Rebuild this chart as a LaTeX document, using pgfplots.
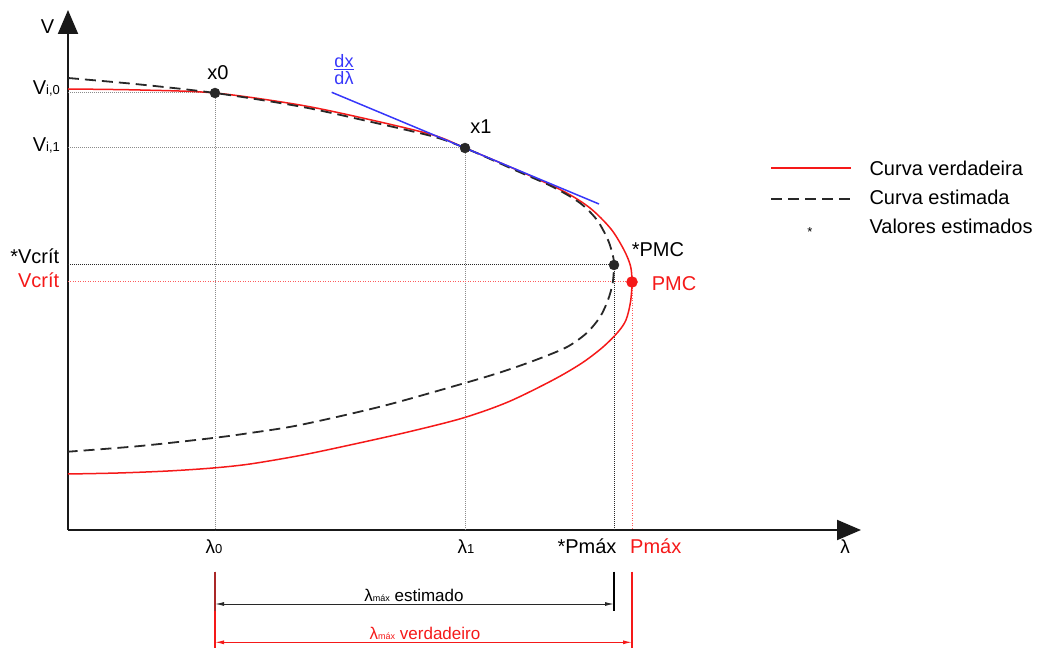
\documentclass[border=0pt]{standalone}
\usepackage{amsmath}
\usepackage{fontspec}
\setmainfont{Liberation Sans}
\usepackage{pgfplots}
\pgfplotsset{compat=1.18}
\usetikzlibrary{arrows.meta}

\definecolor{truered}{RGB}{245,25,25}
\definecolor{lightred}{RGB}{255,90,90}
\definecolor{darkred}{RGB}{170,40,40}
\definecolor{estgray}{RGB}{40,40,40}
\definecolor{tanblue}{RGB}{55,55,250}
\definecolor{guide}{RGB}{140,140,140}

\newcommand\fsA{\fontsize{20bp}{24bp}\selectfont}
\newcommand\fsB{\fontsize{17bp}{20bp}\selectfont}
\newcommand\fsS{\fontsize{13bp}{15bp}\selectfont}
\newcommand\fsT{\fontsize{9bp}{11bp}\selectfont}
% stacked derivative label
\newcommand\derivlabel{%
  \fontsize{18bp}{20bp}\selectfont
  \setbox0\hbox{dλ}%
  \vbox{\hbox to\wd0{\hss dx\hss}\kern1.2bp\hrule height0.9bp\kern1.6bp\box0}}

\begin{document}
\begin{tikzpicture}
\begin{axis}[
  x=100bp, y=100bp,
  xmin=0, xmax=7.92, ymin=0, ymax=5.18,
  hide axis, clip=false,
  every node/.style={inner sep=0pt, outer sep=0pt},
]
% page frame
\path (axis cs:-0.68,5.30) rectangle (axis cs:9.78,-1.21);

% axes
\draw[line width=1.9bp, black!90, -{Triangle[length=24bp,width=20bp]}]
  (axis cs:0,0) -- (axis cs:0,5.20);
\draw[line width=1.9bp, black!90, -{Triangle[length=24bp,width=20bp]}]
  (axis cs:0,0) -- (axis cs:7.93,0);

% guide lines
\addplot[guide, line width=1bp, dash pattern=on 1bp off 1bp]
  coordinates {(0,4.37) (1.47,4.37) (1.47,0)};
\addplot[guide, line width=1bp, dash pattern=on 1bp off 1bp]
  coordinates {(0,3.82) (3.97,3.82) (3.97,0)};
\addplot[estgray, line width=1bp, dash pattern=on 1bp off 1bp]
  coordinates {(0,2.65) (5.46,2.65) (5.46,0)};
\addplot[lightred, line width=1bp, dash pattern=on 1bp off 1.5bp]
  coordinates {(0,2.48) (5.64,2.48) (5.64,0)};

% true PV curve
\addplot[truered, line width=1.5bp, smooth] coordinates {
  (0.00,4.41) (0.72,4.40) (1.47,4.37) (2.32,4.25) (2.99,4.11)
  (3.65,3.95) (3.97,3.82) (4.49,3.60) (4.95,3.39) (5.22,3.22)
  (5.43,3.01) (5.56,2.80) (5.625,2.64) (5.64,2.48) (5.625,2.28)
  (5.58,2.10) (5.50,1.98) (5.35,1.83) (5.14,1.67) (4.85,1.50)
  (4.40,1.28) (3.95,1.12) (3.40,0.98) (2.82,0.85) (2.32,0.745)
  (1.82,0.66) (1.45,0.62) (1.00,0.59) (0.50,0.57) (0.00,0.56)};

% estimated PV curve
\addplot[estgray, line width=1.8bp, smooth, dash pattern=on 11bp off 6bp] coordinates {
  (0.00,4.52) (0.72,4.455) (1.47,4.37) (2.32,4.235) (2.99,4.09)
  (3.65,3.935) (3.97,3.82) (4.49,3.59) (4.85,3.43) (5.12,3.27)
  (5.29,3.10) (5.40,2.90) (5.45,2.74) (5.46,2.65) (5.447,2.47)
  (5.40,2.30) (5.32,2.13) (5.187,1.97) (4.99,1.83) (4.69,1.705)
  (4.35,1.585) (3.97,1.47) (3.15,1.24) (2.32,1.05) (1.82,0.97)
  (1.45,0.92) (0.72,0.84) (0.00,0.783)};

% tangent
\addplot[tanblue, line width=1.5bp] coordinates {(2.637,4.377) (5.31,3.26)};

% points
\addplot[only marks, mark=*, mark size=5bp, estgray]
  coordinates {(1.47,4.37) (3.97,3.82) (5.46,2.65)};
\addplot[only marks, mark=*, mark size=5.5bp, truered]
  coordinates {(5.64,2.48)};

% axis and point labels
\node[anchor=center] at (axis cs:-0.205,5.03) {\fsA V};
\node[anchor=base east] at (axis cs:-0.045,4.35) {\fsA V\fsS i,0};
\node[anchor=base east] at (axis cs:-0.045,3.783) {\fsA V\fsS i,1};
\node[anchor=base east] at (axis cs:-0.053,2.667) {\fsA *Vcrít};
\node[anchor=base east, text=truered] at (axis cs:-0.053,2.427) {\fsA Vcrít};
\node[anchor=base] at (axis cs:1.50,4.50) {\fsA x0};
\node[anchor=base] at (axis cs:4.13,3.96) {\fsA x1};
\node[anchor=base west] at (axis cs:5.603,2.733) {\fsA *PMC};
\node[anchor=base west, text=truered] at (axis cs:5.803,2.393) {\fsA PMC};
\node[anchor=center, text=tanblue] at (axis cs:2.76,4.605) {\derivlabel};

\node[anchor=base] at (axis cs:1.46,-0.233) {\fontsize{19bp}{22bp}\selectfont λ\fsS 0};
\node[anchor=base] at (axis cs:3.98,-0.233) {\fontsize{19bp}{22bp}\selectfont λ\fsS 1};
\node[anchor=base east] at (axis cs:5.52,-0.233) {\fsA *Pmáx};
\node[anchor=base west, text=truered] at (axis cs:5.587,-0.233) {\fsA Pmáx};
\node[anchor=base] at (axis cs:7.77,-0.233) {\fontsize{19bp}{22bp}\selectfont λ};

% span markers
\draw[truered, line width=1.3bp] (axis cs:1.47,-0.417) -- (axis cs:1.47,-1.18);
\draw[darkred, line width=1.3bp] (axis cs:1.47,-0.417) -- (axis cs:1.47,-0.805);
\draw[truered, line width=1.3bp] (axis cs:5.64,-0.417) -- (axis cs:5.64,-1.18);
\draw[black, line width=1.3bp] (axis cs:5.46,-0.417) -- (axis cs:5.46,-0.805);
\draw[estgray, line width=1bp, {Latex[length=9bp,width=4bp]}-{Latex[length=9bp,width=4bp]}]
  (axis cs:1.47,-0.74) -- (axis cs:5.46,-0.74);
\draw[truered, line width=1bp, {Latex[length=9bp,width=4bp]}-{Latex[length=9bp,width=4bp]}]
  (axis cs:1.47,-1.123) -- (axis cs:5.64,-1.123);
\node[anchor=base] at (axis cs:3.46,-0.71) {\fsB λ\fsT máx\fsB{} estimado};
\node[anchor=base, text=truered] at (axis cs:3.57,-1.093) {\fsB λ\fsT máx\fsB{} verdadeiro};

% key
\draw[truered, line width=2bp] (axis cs:7.03,3.617) -- (axis cs:7.83,3.617);
\draw[estgray, line width=1.6bp, dash pattern=on 11bp off 6bp] (axis cs:7.03,3.307) -- (axis cs:7.83,3.307);
\node[anchor=base] at (axis cs:7.42,2.93) {\fsS *};
\node[anchor=base west] at (axis cs:7.98,3.54) {\fsA Curva verdadeira};
\node[anchor=base west] at (axis cs:7.98,3.25) {\fsA Curva estimada};
\node[anchor=base west] at (axis cs:7.98,2.967) {\fsA Valores estimados};
\end{axis}
\end{tikzpicture}
\end{document}
